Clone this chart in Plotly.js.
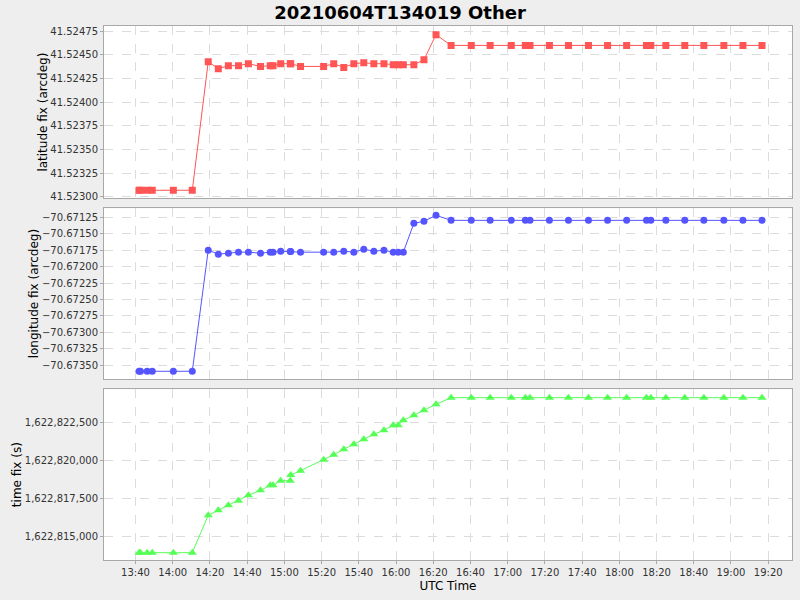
<!DOCTYPE html>
<html>
<head>
<meta charset="utf-8">
<script src="https://cdn.plot.ly/plotly-3.0.1.min.js"></script>
<style>html,body{margin:0;padding:0;background:#eeeeee;}</style>
</head>
<body>
<div id="chart" style="width:800px;height:600px;"></div>
<script>
const utcTime = [
"2021-06-04 13:41:55","2021-06-04 13:42:40","2021-06-04 13:46:15","2021-06-04 13:49:00","2021-06-04 14:00:20","2021-06-04 14:10:30",
"2021-06-04 14:19:05","2021-06-04 14:24:30","2021-06-04 14:29:55","2021-06-04 14:35:20","2021-06-04 14:40:40","2021-06-04 14:47:10",
"2021-06-04 14:52:25","2021-06-04 14:53:55","2021-06-04 14:58:00","2021-06-04 15:03:10","2021-06-04 15:03:25","2021-06-04 15:08:40",
"2021-06-04 15:21:05","2021-06-04 15:26:30","2021-06-04 15:31:55","2021-06-04 15:37:20","2021-06-04 15:42:40","2021-06-04 15:48:05",
"2021-06-04 15:53:30","2021-06-04 15:58:30","2021-06-04 16:01:10","2021-06-04 16:03:55","2021-06-04 16:09:35","2021-06-04 16:15:00",
"2021-06-04 16:21:30","2021-06-04 16:29:35","2021-06-04 16:40:25","2021-06-04 16:50:35","2021-06-04 17:01:55","2021-06-04 17:09:30",
"2021-06-04 17:12:00","2021-06-04 17:22:25","2021-06-04 17:32:40","2021-06-04 17:43:25","2021-06-04 17:53:40","2021-06-04 18:03:55",
"2021-06-04 18:14:35","2021-06-04 18:16:55","2021-06-04 18:25:00","2021-06-04 18:35:10","2021-06-04 18:45:25","2021-06-04 18:56:10",
"2021-06-04 19:06:25","2021-06-04 19:16:40"
];
const latitudeFix = [
41.523068,41.523068,41.523068,41.523068,41.523068,41.523068,
41.524426,41.524352,41.524384,41.524384,41.524405,41.524376,
41.524384,41.524384,41.524405,41.524405,41.524405,41.524376,
41.524376,41.524405,41.524366,41.524405,41.524415,41.524405,
41.524405,41.524394,41.524394,41.524394,41.524394,41.524447,
41.524711,41.524598,41.524598,41.524598,41.524598,41.524598,
41.524598,41.524598,41.524598,41.524598,41.524598,41.524598,
41.524598,41.524598,41.524598,41.524598,41.524598,41.524598,
41.524598,41.524598
];
const longitudeFix = [
-70.673591,-70.673591,-70.673591,-70.673591,-70.673591,-70.673591,
-70.671750,-70.671811,-70.671795,-70.671780,-70.671780,-70.671795,
-70.671780,-70.671780,-70.671765,-70.671770,-70.671770,-70.671780,
-70.671780,-70.671780,-70.671765,-70.671780,-70.671735,-70.671765,
-70.671750,-70.671780,-70.671780,-70.671780,-70.671341,-70.671311,
-70.671220,-70.671296,-70.671296,-70.671296,-70.671296,-70.671296,
-70.671296,-70.671296,-70.671296,-70.671296,-70.671296,-70.671296,
-70.671296,-70.671296,-70.671296,-70.671296,-70.671296,-70.671296,
-70.671296,-70.671296
];
const timeFix = [
1622813921,1622813921,1622813921,1622813921,1622813921,1622813921,
1622816382,1622816711,1622817039,1622817342,1622817697,1622818026,
1622818355,1622818355,1622818658,1622818658,1622819033,1622819316,
1622820039,1622820368,1622820724,1622821053,1622821382,1622821711,
1622821974,1622822303,1622822303,1622822632,1622822961,1622823289,
1622823684,1622824118,1622824118,1622824118,1622824118,1622824118,
1622824118,1622824118,1622824118,1622824118,1622824118,1622824118,
1622824118,1622824118,1622824118,1622824118,1622824118,1622824118,
1622824118,1622824118
];
const chartTitle = "20210604T134019 Other";
const yTitles = ["latitude fix (arcdeg)", "longitude fix (arcdeg)", "time fix (s)"];
const xTitle = "UTC Time";

const F = "DejaVu Sans, sans-serif";
const xRange = ["2021-06-04 13:23:04", "2021-06-04 19:32:47"];
function xax(extra) {
  return Object.assign({
    type: "date", range: xRange, tick0: "2021-06-04 13:40:00", dtick: 1200000,
    tickformat: "%H:%M", showgrid: true, gridcolor: "#dcdcdc", griddash: "dash", gridwidth: 1,
    showline: true, mirror: true, linecolor: "#a8a8a8", linewidth: 1, zeroline: false,
    ticks: "outside", ticklen: 3, tickcolor: "#a8a8a8",
    tickfont: {family: F, size: 10, color: "#333"}
  }, extra);
}
function yax(extra) {
  return Object.assign({
    showgrid: true, gridcolor: "#dcdcdc", griddash: "dash", gridwidth: 1,
    showline: true, mirror: true, linecolor: "#a8a8a8", linewidth: 1, zeroline: false,
    ticks: "outside", ticklen: 3, tickcolor: "#a8a8a8",
    tickfont: {family: F, size: 10, color: "#333"}
  }, extra);
}

const traces = [
  {x: utcTime, y: latitudeFix, xaxis: "x", yaxis: "y", mode: "lines+markers",
   line: {color: "#ff5555", width: 1}, marker: {symbol: "square", size: 7, color: "#ff5555"}},
  {x: utcTime, y: longitudeFix, xaxis: "x2", yaxis: "y2", mode: "lines+markers",
   line: {color: "#5555ff", width: 1}, marker: {symbol: "circle", size: 7, color: "#5555ff"}},
  {x: utcTime, y: timeFix, xaxis: "x3", yaxis: "y3", mode: "lines+markers",
   line: {color: "#55ff55", width: 1}, marker: {symbol: "triangle-up", size: 8, color: "#55ff55"}}
];

const layout = {
  width: 800, height: 600,
  paper_bgcolor: "#eeeeee", plot_bgcolor: "#ffffff",
  showlegend: false,
  margin: {l: 104, r: 8, t: 26, b: 40, pad: 0},
  title: {text: "<b>" + chartTitle + "</b>", x: 0.5, xanchor: "center", y: 0.979, yanchor: "middle",
          font: {family: F, size: 18, color: "#000"}},
  xaxis: xax({domain: [0, 1], anchor: "y", showticklabels: false, ticks: ""}),
  xaxis2: xax({domain: [0, 1], anchor: "y2", showticklabels: false, ticks: ""}),
  xaxis3: xax({domain: [0, 1], anchor: "y3",
    title: {text: xTitle, font: {family: F, size: 12, color: "#000"}, standoff: 4}}),
  yaxis: yax({domain: [0.6773, 1], anchor: "x", range: [41.522983, 41.524803], dtick: 0.00025, tick0: 41.523,
    tickformat: ".5f", title: {text: yTitles[0], font: {family: F, size: 12, color: "#000"}, standoff: 0}}),
  yaxis2: yax({domain: [0.3390, 0.6586], anchor: "x2", range: [-70.673708, -70.671113], dtick: 0.00025, tick0: -70.6735,
    tickformat: ".5f", title: {text: yTitles[1], font: {family: F, size: 12, color: "#000"}, standoff: 0}}),
  yaxis3: yax({domain: [0, 0.3197], anchor: "x3", range: [1622813441, 1622824671], dtick: 2500, tick0: 1622815000,
    tickformat: ",d", title: {text: yTitles[2], font: {family: F, size: 12, color: "#000"}, standoff: 0}})
};

Plotly.newPlot("chart", traces, layout, {displayModeBar: false, staticPlot: true});
</script>
</body>
</html>
